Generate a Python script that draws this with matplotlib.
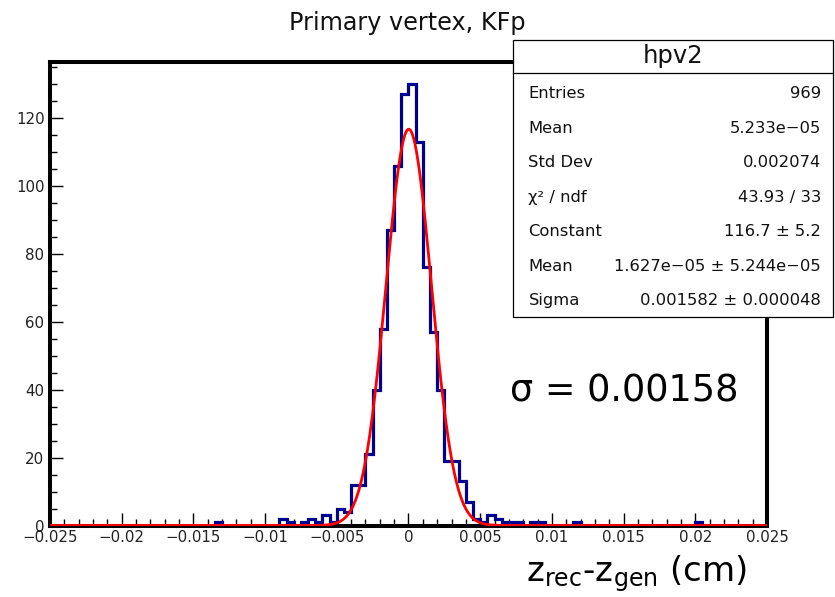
import numpy as np
import matplotlib
matplotlib.use("Agg")
import matplotlib.pyplot as plt
from matplotlib.patches import Rectangle
from matplotlib.lines import Line2D

plt.rcParams['font.family'] = ['DejaVu Sans']
plt.rcParams['mathtext.fontset'] = 'dejavusans'

# ---------------- data ----------------
x_min, x_max, n_bins = -0.025, 0.025, 100
counts = [0] * 23 + [1] + [0] * 8 + [
    2, 1, 0, 1, 2, 1, 3, 1, 5, 4,            # bins 32-41
    12, 12, 21, 40, 58, 87, 106, 127, 130, 113,  # bins 42-51
    76, 57, 40, 19, 19, 13, 7, 2, 1, 3,       # bins 52-61
    2, 1, 1, 1, 0, 1, 1, 0, 0, 0,             # bins 62-71
    0, 1] + [0] * 16 + [1] + [0] * 9          # bins 72-99

fit_constant = 116.7
fit_mean = 1.627e-05
fit_sigma = 0.001582

x_ticks = [-0.025, -0.02, -0.015, -0.01, -0.005, 0, 0.005, 0.01, 0.015, 0.02, 0.025]
x_tick_labels = ["\u22120.025", "\u22120.02", "\u22120.015", "\u22120.01", "\u22120.005", "0",
                 "0.005", "0.01", "0.015", "0.02", "0.025"]
y_ticks = [0, 20, 40, 60, 80, 100, 120]
y_tick_labels = ["0", "20", "40", "60", "80", "100", "120"]

title = "Primary vertex, KFp"
stats_name = "hpv2"
stats_labels = ["Entries", "Mean", "Std Dev", "\u03c7\u00b2 / ndf", "Constant", "Mean", "Sigma"]
stats_values = ["969", "5.233e\u221205", "0.002074", "43.93 / 33", "116.7 \u00b1 5.2",
                "1.627e\u221205 \u00b1 5.244e\u221205", "0.001582 \u00b1 0.000048"]
sigma_text = "\u03c3 = 0.00158"
x_label = r"z$_{\rm rec}$-z$_{\rm gen}$ (cm)"

# ---------------- figure ----------------
W, H = 835, 597
fig = plt.figure(figsize=(W / 100, H / 100), dpi=100)
fig.patch.set_facecolor('white')

def fx(px):
    return px / W

def fy(py):
    return 1 - py / H

ax_l, ax_r, ax_t, ax_b = 50, 767, 62, 525.5
ax = fig.add_axes([fx(ax_l), fy(ax_b), (ax_r - ax_l) / W, (ax_b - ax_t) / H])

edges = np.linspace(x_min, x_max, n_bins + 1)
ax.stairs(counts, edges, color='#00008f', lw=2.3, baseline=None, zorder=3)

xf = np.linspace(x_min, x_max, 1500)
yf = fit_constant * np.exp(-0.5 * ((xf - fit_mean) / fit_sigma) ** 2)
ax.plot(xf, yf, color='#ff0000', lw=2.0, zorder=4)

ax.set_xlim(x_min, x_max)
ax.set_ylim(0, 136.5)

for s in ax.spines.values():
    s.set_linewidth(2.9)
    s.set_zorder(2.5)

ax.set_xticks(x_ticks)
ax.set_xticklabels(x_tick_labels)
ax.set_xticks(np.arange(-0.025, 0.02501, 0.001), minor=True)
ax.set_yticks(y_ticks)
ax.set_yticklabels(y_tick_labels)
ax.set_yticks(np.arange(0, 136, 5), minor=True)
ax.tick_params(which='both', direction='in', top=False, right=False, width=1.0,
               labelsize=10.8, colors='black')
ax.tick_params(axis='x', which='major', length=9.5, pad=3)
ax.tick_params(axis='x', which='minor', length=5)
ax.tick_params(axis='y', which='major', length=9, pad=4)
ax.tick_params(axis='y', which='minor', length=5)
for lab in ax.get_xticklabels() + ax.get_yticklabels():
    lab.set_color('#222222')

# title
fig.text(fx(407.5), fy(23), title, ha='center', va='center', fontsize=17.2, color='#111111')

# stats box
bx0, bx1, by0, by1 = 513, 833, 40, 317
fig.add_artist(Rectangle((fx(bx0), fy(by1)), (bx1 - bx0) / W, (by1 - by0) / H,
                         transform=fig.transFigure, facecolor='white', edgecolor='black',
                         lw=0.9, zorder=5))
fig.add_artist(Line2D([fx(bx0), fx(bx1)], [fy(73.3), fy(73.3)], transform=fig.transFigure,
                      color='black', lw=0.9, zorder=6))
fig.text(fx((bx0 + bx1) / 2), fy(63.5), stats_name, ha='center', va='baseline',
         fontsize=17.5, color='#111111', zorder=7)
base0, step = 98.3, 34.5
for i, (lab, val) in enumerate(zip(stats_labels, stats_values)):
    yb = base0 + i * step
    fig.text(fx(528.5), fy(yb), lab, ha='left', va='baseline', fontsize=11.8,
             color='#111111', zorder=7)
    fig.text(fx(821), fy(yb), val, ha='right', va='baseline', fontsize=11.8,
             color='#111111', zorder=7)

# annotations
fig.text(fx(510), fy(401.5), sigma_text, ha='left', va='baseline', fontsize=26.4, color='black')
fig.text(fx(526), fy(581), x_label, ha='left', va='baseline', fontsize=24.5, color='black')

fig.savefig("out.png", dpi=100)
